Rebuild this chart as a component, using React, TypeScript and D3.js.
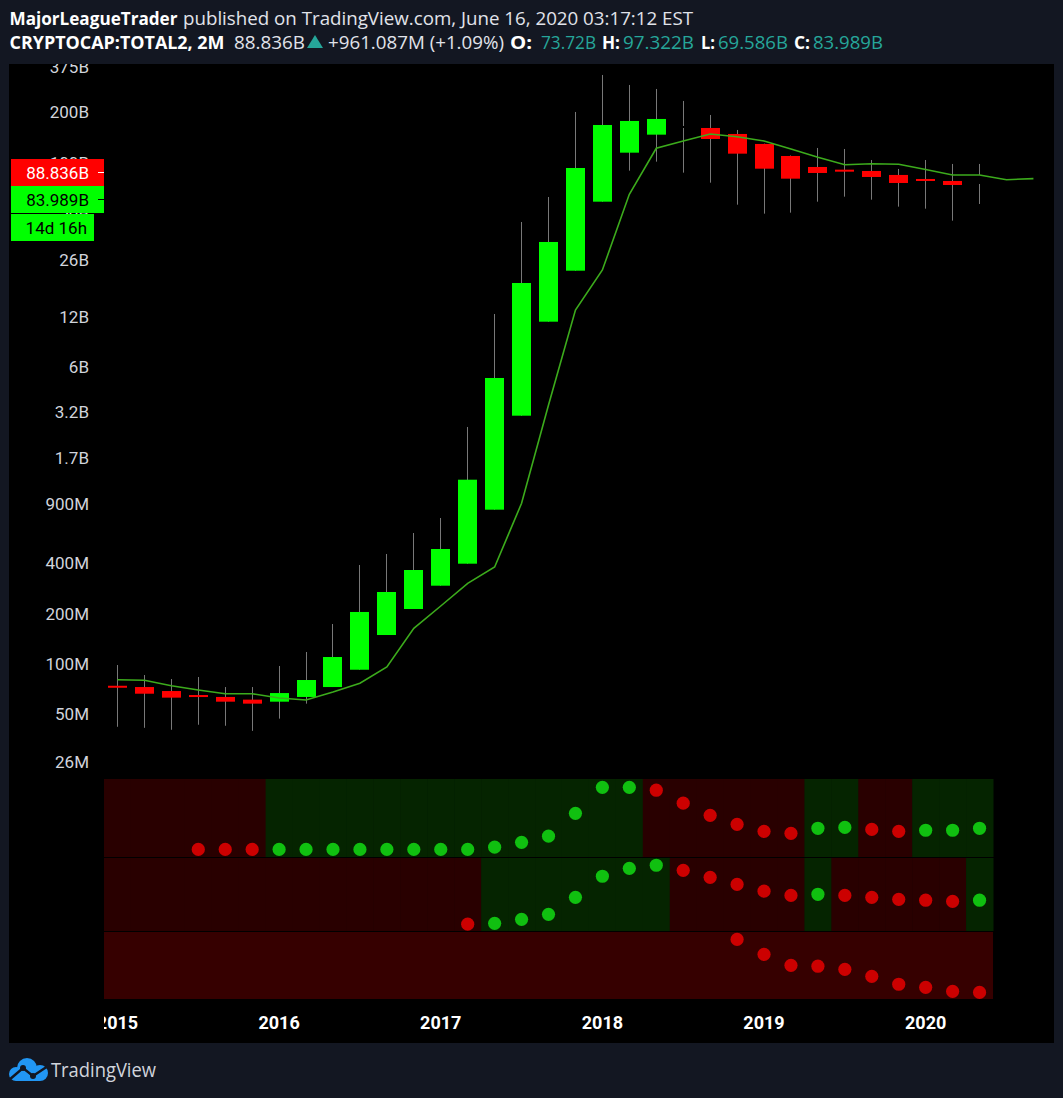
"use client";

import * as d3 from "d3";
import { useEffect, useRef } from "react";

// CRYPTOCAP:TOTAL2, 2-month bars from Jan 2015 to May 2020 (values in USD millions)
const open = [74.1, 72.8, 68.9, 65.2, 63.5, 61.2, 59.5, 63.5, 72.8, 92.4, 149.1, 213.4, 294.2, 398.4, 838.5, 3062, 11183, 22580, 58440, 114830, 147160, 165860, 161360, 148580, 129450, 109700, 94270, 90840, 89230, 84460, 79910, 77740, 74580];
const high = [98.6, 85.9, 81.3, 83.6, 72.8, 72.8, 97.3, 118.0, 173.5, 391.3, 455.3, 608, 747.8, 2621, 12435, 44180, 62350, 201160, 334960, 291860, 276200, 234160, 193040, 157000, 130000, 110500, 122500, 120830, 103800, 91710, 103800, 98270, 98270];
const low = [42.1, 41.5, 40.4, 43.3, 42.7, 39.8, 47.1, 57.9, 72.8, 92.4, 149.1, 213.4, 294.2, 398.4, 838.5, 3062, 11183, 22580, 58440, 89600, 101430, 87170, 75940, 56080, 49550, 50240, 58440, 62610, 60080, 54560, 53070, 44990, 56620];
const close = [72.1, 66.4, 62.9, 63.5, 59.5, 57.9, 67.0, 80.2, 110.1, 204.8, 269.7, 365.2, 487.8, 1267.6, 5148, 19060, 33540, 92970, 168160, 177730, 182700, 161360, 138660, 113260, 92100, 80250, 86800, 89230, 82150, 75620, 77740, 73560, 84460];
// u = green body, d = red body, n = neutral (black) body
const candleKind = ("dddddd" + "uuuuuuuuuuuuuuu" + "n" + "dddddddddd" + "n").split("");

// moving average, displaced 2 bars forward (35 slots)
const ma = [80.5, 79.9, 74.1, 69.9, 66.4, 66.4, 62.6, 60.9, 68.0, 76.7, 96.0, 163.6, 222.4, 304.1, 380.7, 915.7, 3548, 13140, 22800, 64720, 122000, 134890, 148580, 143150, 134890, 120830, 107760, 97310, 98660, 97840, 91080, 84460, 84460, 79140, 80250];

const priceTicks = [375000, 200000, 100000, 50000, 26000, 12000, 6000, 3200, 1700, 900, 400, 200, 100, 50, 26];
const priceTickLabels = ["375B", "200B", "100B", "50B", "26B", "12B", "6B", "3.2B", "1.7B", "900M", "400M", "200M", "100M", "50M", "26M"];

const years = ["2015", "2016", "2017", "2018", "2019", "2020"];
const yearBars = [0, 6, 12, 18, 24, 30];

const lastPrice = 88836;
const lastPriceLabel = "88.836B";
const closeLabel = "83.989B";
const countdownLabel = "14d 16h";

// lower indicator pane: trend per bar (g / r) and dot levels (0..100 pane scale)
const trend1 = ("rrrrrr" + "gggggggggggggg" + "rrrrrr" + "gg" + "rr" + "ggg").split("");
const trend2 = ("rrrrrrrrrrrrrr" + "ggggggg" + "rrrrr" + "g" + "rrrrr" + "g").split("");
const dots1 = [null, null, null, 68, 68, 68, 68, 68, 68, 68, 68, 68, 68, 68, 69, 71.2, 74, 84.4, 96.2, 96.2, 94.9, 89, 83.5, 79.4, 76.2, 75.3, 77.6, 78, 77.1, 76.2, 76.7, 76.7, 77.6];
const dots2 = [null, null, null, null, null, null, null, null, null, null, null, null, null, 34, 34.4, 36.2, 38.5, 46.2, 55.8, 59.4, 60.8, 58.5, 55.3, 52.1, 49, 47.1, 47.6, 47.1, 46.2, 45.3, 44.9, 44.4, 44.9];
const dots3 = [null, null, null, null, null, null, null, null, null, null, null, null, null, null, null, null, null, null, null, null, null, null, null, 27.1, 20.3, 15.3, 14.9, 13.5, 10.3, 6.7, 5.3, 3.5, 3.0];

export default function App() {
  const svgRef = useRef<SVGSVGElement | null>(null);

  useEffect(() => {
    if (!svgRef.current) return;
    document.body.style.margin = "0";

    const svg = d3.select(svgRef.current);
    svg.selectAll("*").remove();

    const width = 1063;
    const height = 1098;
    svg.attr("width", width).attr("height", height);

    svg.append("rect").attr("width", width).attr("height", height).attr("fill", "#131722");

    const paneL = 9, paneR = 1054, paneT = 64, paneB = 1043;
    svg.append("rect")
      .attr("x", paneL).attr("y", paneT)
      .attr("width", paneR - paneL).attr("height", paneB - paneT)
      .attr("fill", "#000");

    const step = 26.94;
    const slots = d3.range(ma.length);
    const x = d3.scaleBand<number>().domain(slots).range([104, 104 + slots.length * step]);
    const cx = (i: number) => x(i)! + x.bandwidth() / 2;
    const y = d3.scaleLog().domain([100, 200000]).range([664, 112.4]);

    const defs = svg.append("defs");
    defs.append("clipPath").attr("id", "clip-main").append("rect")
      .attr("x", paneL).attr("y", paneT).attr("width", paneR - paneL).attr("height", 776 - paneT);
    defs.append("clipPath").attr("id", "clip-time").append("rect")
      .attr("x", 104).attr("y", 1000).attr("width", paneR - 104).attr("height", paneB - 1000);

    const main = svg.append("g").attr("clip-path", "url(#clip-main)");

    // price axis
    const yAxis = main.append("g")
      .attr("transform", "translate(89,0)")
      .call(d3.axisLeft(y).tickValues(priceTicks).tickFormat((_, i) => priceTickLabels[i]).tickSize(0).tickPadding(0));
    yAxis.select(".domain").remove();
    yAxis.selectAll("text")
      .attr("fill", "#d1d4dc")
      .style("font-family", "Roboto, sans-serif")
      .style("font-size", "17px");

    // candles
    const kindColor: Record<string, string> = { u: "#00ff00", d: "#ff0000", n: "#000000" };
    const bars = open.map((o, i) => ({ i, o, h: high[i], l: low[i], c: close[i], k: candleKind[i] }));
    const candle = main.append("g").selectAll("g").data(bars).join("g");
    candle.append("line")
      .attr("x1", d => Math.floor(cx(d.i)) + 0.5)
      .attr("x2", d => Math.floor(cx(d.i)) + 0.5)
      .attr("y1", d => y(d.h))
      .attr("y2", d => y(d.l))
      .attr("stroke", "#787878")
      .attr("stroke-width", 1);
    candle.append("rect")
      .attr("x", d => Math.floor(cx(d.i)) - 9)
      .attr("width", 19)
      .attr("y", d => y(Math.max(d.o, d.c)))
      .attr("height", d => Math.max(2, Math.abs(y(d.o) - y(d.c))))
      .attr("fill", d => kindColor[d.k]);

    // moving average
    const maLine = d3.line<number>().x((_, i) => cx(i)).y(d => y(d));
    main.append("path")
      .datum(ma)
      .attr("d", maLine)
      .attr("fill", "none")
      .attr("stroke", "#3cab1c")
      .attr("stroke-width", 1.6);

    // last price / close / countdown labels
    const boxTop = Math.round(y(lastPrice)) - 12;
    const labels = [
      { text: lastPriceLabel, top: boxTop, w: 93, fill: "#ff0000", ink: "#ffffff", tick: true, right: 89 },
      { text: closeLabel, top: boxTop + 27, w: 93, fill: "#00ff00", ink: "#000000", tick: true, right: 89 },
      { text: countdownLabel, top: boxTop + 55, w: 83, fill: "#00ff00", ink: "#000000", tick: false, right: 87 },
    ];
    const lab = svg.append("g").selectAll("g").data(labels).join("g");
    lab.append("rect")
      .attr("x", 11).attr("y", d => d.top)
      .attr("width", d => d.w).attr("height", 27)
      .attr("fill", d => d.fill);
    lab.append("text")
      .attr("x", d => d.right).attr("y", d => d.top + 19.5)
      .attr("text-anchor", "end")
      .attr("fill", d => d.ink)
      .style("font-family", "Roboto, sans-serif")
      .style("font-size", "17px")
      .text(d => d.text);
    lab.filter(d => d.tick).append("line")
      .attr("x1", 98).attr("x2", 104)
      .attr("y1", d => d.top + 13.5).attr("y2", d => d.top + 13.5)
      .attr("stroke", d => d.ink).attr("stroke-width", 1);

    // indicator pane
    const p = d3.scaleLinear().domain([0, 100]).range([999, 779]);
    const rows = [
      { top: 779, bottom: 857, trend: trend1, dots: dots1 },
      { top: 858, bottom: 931, trend: trend2, dots: dots2 },
    ];
    const bg: Record<string, string> = { g: "#052400", r: "#290000" };
    const dotColor: Record<string, string> = { g: "#10c010", r: "#cc0000" };
    const pane = svg.append("g");
    rows.forEach(row => {
      pane.append("g").selectAll("rect").data(row.trend).join("rect")
        .attr("x", (_, i) => x(i)!)
        .attr("width", x.bandwidth() + 0.5)
        .attr("y", row.top)
        .attr("height", row.bottom - row.top)
        .attr("fill", d => bg[d]);
    });
    pane.append("rect")
      .attr("x", x(0)!).attr("y", 932)
      .attr("width", x(open.length - 1)! + x.bandwidth() - x(0)!)
      .attr("height", 999 - 932)
      .attr("fill", "#360000");

    const dotRows = [
      { dots: dots1, trend: trend1 },
      { dots: dots2, trend: trend2 },
      { dots: dots3, trend: dots3.map(() => "r") },
    ];
    dotRows.forEach(row => {
      const pts = row.dots.map((v, i) => ({ v, i, t: row.trend[i] })).filter(d => d.v !== null);
      pane.append("g").selectAll("circle").data(pts).join("circle")
        .attr("cx", d => cx(d.i))
        .attr("cy", d => p(d.v as number))
        .attr("r", 6.6)
        .attr("fill", d => dotColor[d.t]);
    });

    // time axis
    const tAxis = svg.append("g").attr("clip-path", "url(#clip-time)")
      .append("g")
      .attr("transform", "translate(0,1016)")
      .call(d3.axisBottom(x).tickValues(yearBars).tickFormat((_, i) => years[i]).tickSize(0).tickPadding(0));
    tAxis.select(".domain").remove();
    tAxis.selectAll("text")
      .attr("fill", "#ffffff")
      .style("font-family", "Roboto, sans-serif")
      .style("font-size", "18px")
      .style("font-weight", "bold");

    // header
    const head = svg.append("g").style("font-family", "'Open Sans', sans-serif").style("font-size", "18px");
    const seg = (txt: string, x0: number, y0: number, len: number | null, color: string, bold: boolean) => {
      const t = head.append("text")
        .attr("x", x0).attr("y", y0)
        .attr("fill", color)
        .style("font-weight", bold ? "bold" : "normal")
        .text(txt);
      if (len) t.attr("textLength", len).attr("lengthAdjust", "spacingAndGlyphs");
    };
    const light = "#e1e3ea";
    const teal = "#26a69a";
    seg("MajorLeagueTrader", 9.5, 25, 168, "#ffffff", true);
    seg("published on TradingView.com, June 16, 2020 03:17:12 EST", 183, 25, 510, light, false);
    seg("CRYPTOCAP:TOTAL2, 2M", 9.5, 49, 215, "#ffffff", true);
    seg("88.836B", 234, 49, 71, light, false);
    head.append("path").attr("d", "M307,48 L323,48 L315,35 Z").attr("fill", teal);
    seg("+961.087M (+1.09%)", 328, 49, 176, light, false);
    seg("O:", 510, 49, 22, "#ffffff", true);
    seg("73.72B", 541, 49, 55, teal, false);
    seg("H:", 602, 49, 18, "#ffffff", true);
    seg("97.322B", 623, 49, 71, teal, false);
    seg("L:", 701, 49, 14, "#ffffff", true);
    seg("69.586B", 718, 49, 70, teal, false);
    seg("C:", 794, 49, 16, "#ffffff", true);
    seg("83.989B", 813, 49, 70, teal, false);

    // footer logo
    const logo = svg.append("g").attr("transform", "translate(9,1058)");
    const blue = "#2196f3";
    logo.append("circle").attr("cx", 7).attr("cy", 16).attr("r", 7).attr("fill", blue);
    logo.append("circle").attr("cx", 18).attr("cy", 10).attr("r", 10).attr("fill", blue);
    logo.append("circle").attr("cx", 31).attr("cy", 15).attr("r", 8).attr("fill", blue);
    logo.append("rect").attr("x", 7).attr("y", 12).attr("width", 24).attr("height", 11).attr("fill", blue);
    logo.append("polyline")
      .attr("points", "0,22 14,10 24,18 39,8")
      .attr("fill", "none").attr("stroke", "#131722").attr("stroke-width", 2.5);
    logo.append("circle").attr("cx", 14).attr("cy", 10).attr("r", 3).attr("fill", "#131722");
    logo.append("circle").attr("cx", 24).attr("cy", 18).attr("r", 3).attr("fill", "#131722");
    svg.append("text")
      .attr("x", 51).attr("y", 1077)
      .attr("fill", "#d1d4dc")
      .attr("textLength", 105).attr("lengthAdjust", "spacingAndGlyphs")
      .style("font-family", "'Open Sans', sans-serif")
      .style("font-size", "20px")
      .text("TradingView");
  }, []);

  return (
    <div style={{ width: 1063, height: 1098 }}>
      <svg ref={svgRef} style={{ display: "block" }}></svg>
    </div>
  );
}
